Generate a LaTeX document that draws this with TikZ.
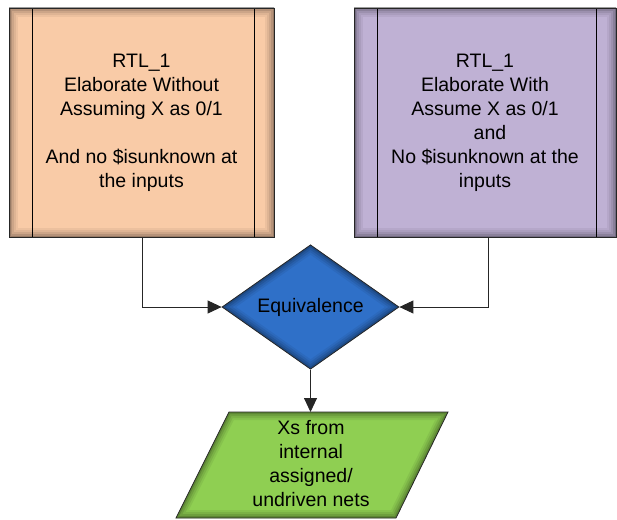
\documentclass[tikz,border=0pt]{standalone}
\usepackage{fontspec}
\setmainfont{Liberation Sans}
\usetikzlibrary{shapes.geometric,arrows.meta}

\definecolor{peach}{HTML}{F9CBA7}
\definecolor{lilac}{HTML}{BFB1D4}
\definecolor{eqblue}{HTML}{2F70C8}
\definecolor{leafgreen}{HTML}{8FCF52}
\definecolor{wire}{HTML}{262626}

\tikzset{
  % inner shadow along the border of a rectangular box, with the two side bars
  rtlbox/.style={
    draw=black!85, line width=0.8pt, inner sep=0pt,
    minimum width=265pt, minimum height=229pt,
    align=center, font=\fontsize{19.5}{24}\selectfont,
    path picture={
      \foreach \w/\o in {18/0.05,14/0.06,10/0.08,6/0.11,3/0.16}
        \draw[line width=\w pt, black, opacity=\o]
          (path picture bounding box.south west) rectangle (path picture bounding box.north east);
      \draw[black, line width=0.7pt]
        ([xshift=23pt]path picture bounding box.south west) -- ([xshift=23pt]path picture bounding box.north west)
        ([xshift=-20pt]path picture bounding box.south east) -- ([xshift=-20pt]path picture bounding box.north east);
    }},
  eqdiamond/.style={
    diamond, draw=black!85, line width=0.8pt, fill=eqblue, inner sep=0pt,
    minimum width=177pt, minimum height=106pt,
    font=\fontsize{19.5}{24}\selectfont,
    path picture={
      \foreach \w/\o in {16/0.06,12/0.08,8/0.10,4/0.15}
        \draw[line width=\w pt, black, opacity=\o]
          (path picture bounding box.west) -- (path picture bounding box.north)
          -- (path picture bounding box.east) -- (path picture bounding box.south) -- cycle;
    }},
  flow/.style={draw=wire, line width=0.9pt, -{Triangle[length=14pt,width=13pt]}},
  txt/.style={align=center, font=\fontsize{19.5}{24}\selectfont, inner sep=0pt}
}

\begin{document}
\begin{tikzpicture}[x=1pt, y=-1pt]
  \useasboundingbox (0,0) rectangle (617,519);

  % the two elaboration boxes
  \node[rtlbox, fill=peach] (left) at (141.5,122.5)
    {RTL\_1\\Elaborate Without\\Assuming X as 0/1\\[24pt]And no \$isunknown at\\the inputs};
  \node[rtlbox, fill=lilac, minimum width=262pt] (right) at (485,122.5)
    {RTL\_1\\Elaborate With\\Assume X as 0/1\\\hspace{10pt}and\\No \$isunknown at the\\inputs};

  % equivalence check
  \node[eqdiamond] (eq) at (310.5,307) {Equivalence};

  % result: parallelogram
  \coordinate (tl) at (229,412);
  \coordinate (tr) at (448,412);
  \coordinate (br) at (396,518);
  \coordinate (bl) at (176,518);
  \begin{scope}
    \clip (tl) -- (tr) -- (br) -- (bl) -- cycle;
    \fill[leafgreen] (tl) -- (tr) -- (br) -- (bl) -- cycle;
    \foreach \w/\o in {16/0.06,12/0.08,8/0.10,4/0.15}
      \draw[line width=\w pt, black, opacity=\o] (tl) -- (tr) -- (br) -- (bl) -- cycle;
  \end{scope}
  \draw[draw=black!85, line width=0.8pt] (tl) -- (tr) -- (br) -- (bl) -- cycle;
  \coordinate (outtop) at (310.5,412);
  \node[txt] (out) at (311,464) {Xs from\\internal\\assigned/\\undriven nets};

  % connectors
  \coordinate (lbend) at (142,307);
  \coordinate (rbend) at (488,307);
  \draw[flow] (left.south -| lbend) -- (lbend) -- (eq.west);
  \draw[flow] (right.south -| rbend) -- (rbend) -- (eq.east);
  \draw[flow] (eq.south) -- (outtop);
\end{tikzpicture}
\end{document}
